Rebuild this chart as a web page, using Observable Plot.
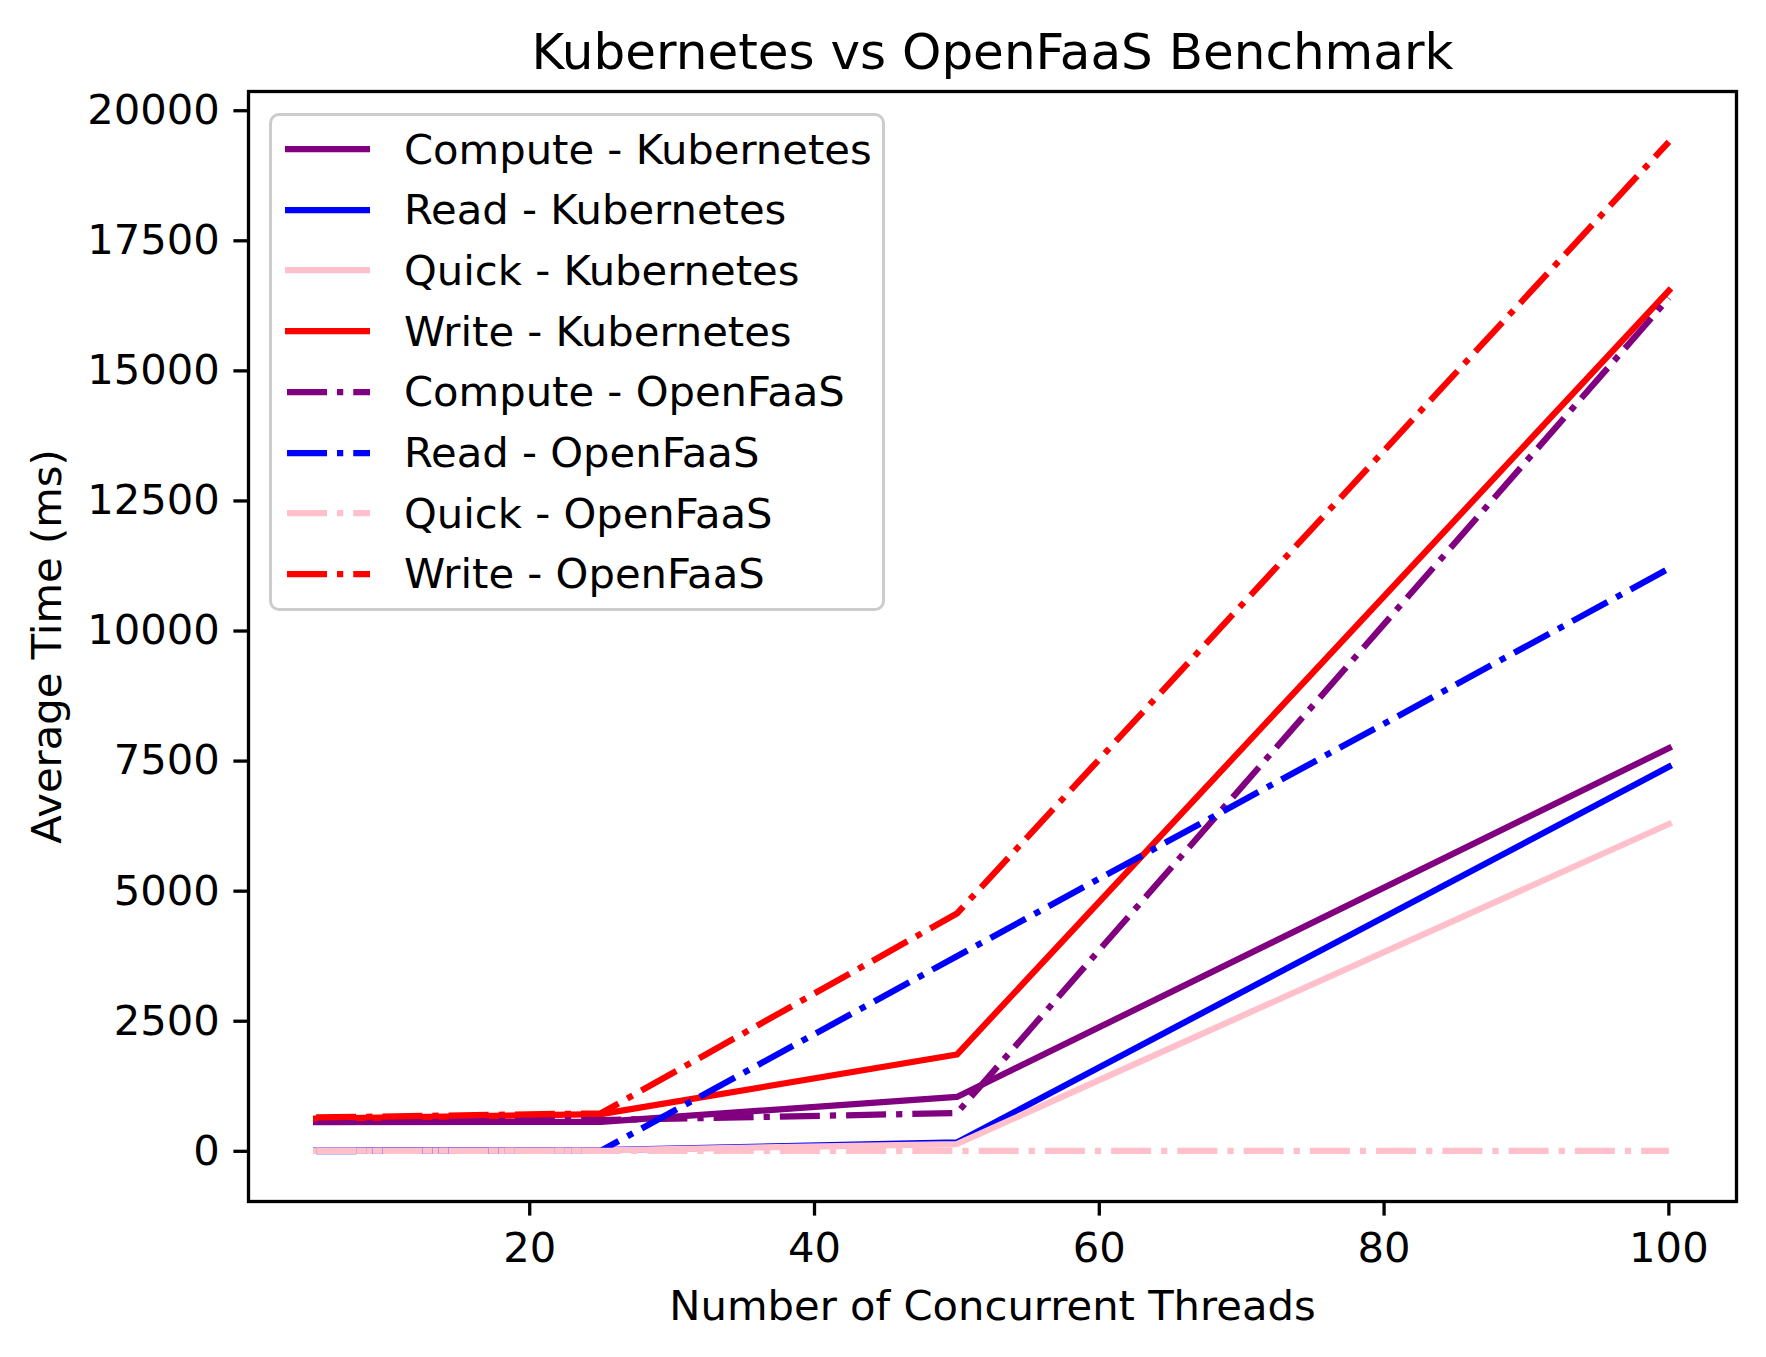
<!DOCTYPE html>
<html><head><meta charset="utf-8">
<script src="https://cdn.jsdelivr.net/npm/d3@7"></script>
<script src="https://cdn.jsdelivr.net/npm/@observablehq/plot@0.6"></script>
<style>
body{margin:0;background:#fff;}
#wrap{position:relative;width:1766px;height:1357px;font-family:"DejaVu Sans";color:#000;}
#legend{position:absolute;left:269px;top:113px;width:616px;height:498px;border:3px solid #cccccc;border-radius:10px;background:rgba(255,255,255,0.8);box-sizing:border-box;}
.row{position:absolute;left:0;height:50px;display:flex;align-items:center;font-size:41.7px;white-space:nowrap;}
.row svg{margin-left:11px;margin-right:32px;}
</style></head><body><div id="wrap"><div id="chart"></div><div id="legend"></div></div>
<script>
const threads = [5, 25, 50, 100];
const computeKubernetes = [560, 565, 1045, 7750];
const readKubernetes = [15, 25, 170, 7390];
const quickKubernetes = [10, 20, 140, 6290];
const writeKubernetes = [630, 715, 1860, 16540];
const computeOpenFaaS = [580, 600, 735, 16400];
const readOpenFaaS = [5, 10, 3750, 11200];
const quickOpenFaaS = [10, 10, 10, 10];
const writeOpenFaaS = [650, 730, 4570, 19400];
const seriesNames = ["Compute - Kubernetes", "Read - Kubernetes", "Quick - Kubernetes", "Write - Kubernetes",
  "Compute - OpenFaaS", "Read - OpenFaaS", "Quick - OpenFaaS", "Write - OpenFaaS"];
const seriesValues = [computeKubernetes, readKubernetes, quickKubernetes, writeKubernetes,
  computeOpenFaaS, readOpenFaaS, quickOpenFaaS, writeOpenFaaS];
const yTicks = [0, 2500, 5000, 7500, 10000, 12500, 15000, 17500, 20000];
const xTicks = [20, 40, 60, 80, 100];

// styles
const colorOf = ["purple", "blue", "pink", "red", "purple", "blue", "pink", "red"];
const DASHDOT = "40,10,6.25,10";
const dashOf = seriesNames.map(n => n.includes("OpenFaaS") ? DASHDOT : null);

const rows = [];
seriesNames.forEach((name, i) => threads.forEach((t, j) => rows.push({series: name, x: t, y: seriesValues[i][j]})));

function padded(ext) { const p = (ext[1] - ext[0]) * 0.05; return [ext[0] - p, ext[1] + p]; }
const xDomain = padded(d3.extent(threads));
const yDomain = padded(d3.extent(rows, d => d.y));

const LW = 6.25;
const lineMarks = seriesNames.map((name, i) => Plot.line(rows.filter(r => r.series === name), {
  x: "x", y: "y", stroke: colorOf[i], strokeWidth: LW,
  strokeDasharray: dashOf[i] || undefined,
  strokeLinejoin: "round", strokeLinecap: dashOf[i] ? "butt" : "square"
}));

const chart = Plot.plot({
  width: 1766, height: 1357,
  marginLeft: 248, marginRight: 30, marginTop: 91, marginBottom: 156,
  style: {fontFamily: "DejaVu Sans", fontSize: "41.7px", color: "#000", background: "#fff"},
  x: {domain: xDomain},
  y: {domain: yDomain},
  marks: [
    ...lineMarks,
    Plot.frame({stroke: "#000", strokeWidth: 3.3}),
    Plot.axisY({ticks: yTicks, tickSize: 14.6, tickPadding: 14, tickFormat: d => String(d), label: null, strokeWidth: 3.3, fontSize: 41.7}),
    Plot.axisX({ticks: xTicks, tickSize: 14.6, tickPadding: 16, tickFormat: d => String(d), label: null, strokeWidth: 3.3, fontSize: 41.7}),
    Plot.text(["Number of Concurrent Threads"], {frameAnchor: "bottom", dy: 105, text: d => d, fontSize: 41.7, lineAnchor: "middle", textAnchor: "middle"}),
    Plot.text(["Average Time (ms)"], {frameAnchor: "left", dx: -201, rotate: -90, text: d => d, fontSize: 41.7, lineAnchor: "middle", textAnchor: "middle"}),
    Plot.text(["Kubernetes vs OpenFaaS Benchmark"], {frameAnchor: "top", dy: -39, text: d => d, fontSize: 50, lineAnchor: "middle", textAnchor: "middle"})
  ]
});
document.getElementById("chart").appendChild(chart);

// legend
const legend = d3.select("#legend");
seriesNames.forEach((name, i) => {
  const row = legend.append("div").attr("class", "row").style("top", (8 + i * 60.7) + "px");
  const svg = row.append("svg").attr("width", 89).attr("height", 20);
  svg.append("line").attr("x1", 2).attr("x2", 87).attr("y1", 10).attr("y2", 10)
    .attr("stroke", colorOf[i]).attr("stroke-width", LW)
    .attr("stroke-dasharray", dashOf[i])
    .attr("stroke-dashoffset", dashOf[i] ? -2 : null);
  row.append("span").text(name);
});
</script>
</body></html>
